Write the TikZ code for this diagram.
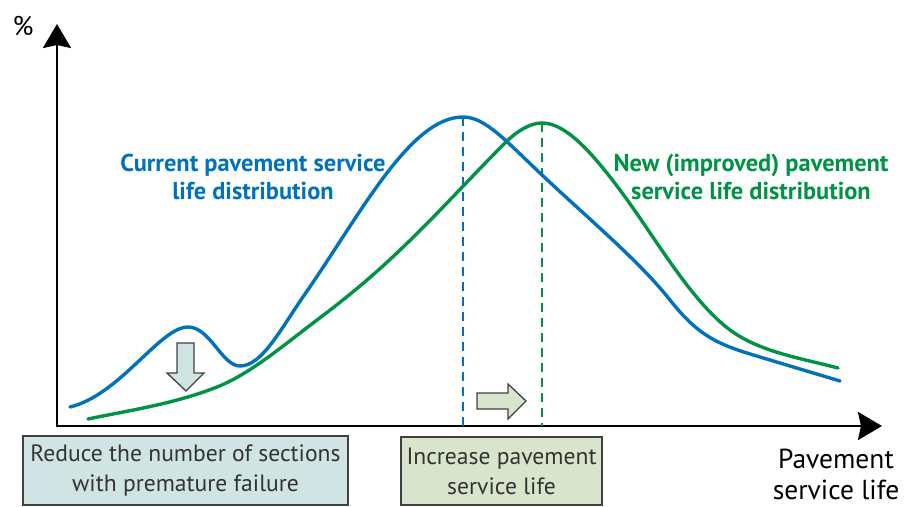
\documentclass[tikz,border=0pt]{standalone}
\usepackage{fontspec}
\setmainfont{PT Sans}
\usetikzlibrary{arrows.meta}
\definecolor{curblue}{RGB}{0,114,188}
\definecolor{newgreen}{RGB}{0,146,69}
\definecolor{boxblue}{RGB}{208,228,228}
\definecolor{boxgreen}{RGB}{217,228,204}
\definecolor{boxline}{RGB}{64,64,64}
\definecolor{boxtext}{RGB}{51,51,51}

\begin{document}
\begin{tikzpicture}[x=1pt,y=-1pt,
    axis/.style={line width=2.6pt,{Stealth[length=24pt,width=28pt,inset=3pt]}-{Stealth[length=24pt,width=28pt,inset=3pt]}},
    curve/.style={line width=3.4pt,line cap=round},
    peakline/.style={line width=1.6pt,dash pattern=on 9pt off 6pt},
    notebox/.style={draw=boxline,line width=1.5pt,text=boxtext,align=center,inner sep=0pt,
      font=\fontsize{23.6}{30}\selectfont},
    blockarrow/.style={draw=boxline,line width=1.3pt,line join=miter},
    curvelabel/.style={align=center,font=\bfseries\fontsize{24.4}{28}\selectfont}]
    %%%%% START %%%%%
    \useasboundingbox (0,0) rectangle (907,506);

    % axes
    \coordinate (origin) at (57,426);
    \coordinate (ytip) at (57,24);
    \coordinate (xtip) at (882,426);
    \draw[axis] (ytip) -- (origin) -- (xtip);
    \node[font=\fontsize{27}{30}\selectfont] (percent) at (23,26) {\%};
    \node[align=center,font=\fontsize{27.5}{31}\selectfont] (xlabel) at (836,474) {Pavement\\service life};

    % peaks
    \coordinate (curpeak) at (463,117);
    \coordinate (newpeak) at (542,123);
    \draw[peakline,curblue] (curpeak) -- (curpeak |- origin);
    \draw[peakline,newgreen] (newpeak) -- (newpeak |- origin);

    % distributions
    \draw[curve,newgreen] (88,419) .. controls (131,410) and (174,404) .. (217,387)
      .. controls (250,374) and (284,345) .. (317,320)
      .. controls (345,299) and (372,277) .. (400,250)
      .. controls (435,217) and (470,178) .. (505,143)
      .. controls (517,131) and (530,123) .. (newpeak)
      .. controls (565,123) and (590,150) .. (620,190)
      .. controls (655,237) and (690,300) .. (730,330)
      .. controls (760,352) and (800,358) .. (838,368);
    \draw[curve,curblue] (70,407) .. controls (120,395) and (160,327) .. (188,327)
      .. controls (210,327) and (222,366) .. (240,366)
      .. controls (262,366) and (280,330) .. (305,294)
      .. controls (360,215) and (410,117) .. (curpeak)
      .. controls (485,117) and (505,140) .. (542,175)
      .. controls (590,220) and (640,262) .. (670,300)
      .. controls (700,338) and (720,345) .. (760,357)
      .. controls (800,369) .. (840,381);

    \node[curvelabel,text=curblue] (curlabel) at (253,177) {Current pavement service\\life distribution};
    \node[curvelabel,text=newgreen] (newlabel) at (751,177) {New (improved) pavement\\service life distribution};

    % block arrows
    \draw[blockarrow,fill=boxblue] (177,343) -- (194,343) -- (194,373) -- (204,373) -- (186,391)
      -- (167,373) -- (177,373) -- cycle;
    \draw[blockarrow,fill=boxgreen] (477,393) -- (508,393) -- (508,384) -- (526,401) -- (508,419)
      -- (508,409) -- (477,409) -- cycle;

    % notes
    \node[notebox,fill=boxblue,minimum width=325pt,minimum height=69pt] (fewer) at (185.5,470.5)
      {Reduce the number of sections\\with premature failure};
    \node[notebox,fill=boxgreen,minimum width=201pt,minimum height=68pt] (longer) at (501.5,471)
      {Increase pavement\\service life};
    %%%%% END %%%%%
\end{tikzpicture}
\end{document}
